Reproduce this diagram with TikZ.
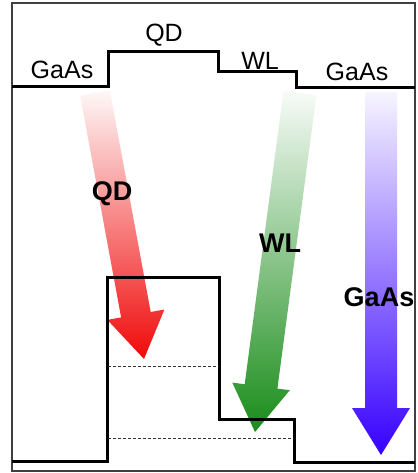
\documentclass[tikz,border=0pt]{standalone}
\usepackage{fontspec}
\setmainfont{Liberation Sans}
\definecolor{qdred}{RGB}{240,10,10}
\definecolor{wlgreen}{RGB}{25,140,25}
\definecolor{gaasblue}{RGB}{55,0,255}
\begin{document}
\begin{tikzpicture}[x=1pt,y=-1pt,
  band/.style={line width=3pt, line join=miter},
  lvl/.style={line width=0.9pt, dash pattern=on 3pt off 2pt, black!80},
  frame/.style={line width=1.2pt, black!75},
  lbl/.style={font=\fontsize{25}{25}\selectfont, inner sep=0pt},
  blbl/.style={font=\fontsize{27}{27}\selectfont\bfseries, inner sep=0pt}]
\useasboundingbox (0,0) rectangle (417,473);
\fill[white] (0,0) rectangle (417,473);
% frame
\draw[frame] (12,3) rectangle (415,471);
% arrows
\shade[top color=qdred!3, bottom color=qdred]
  (80.2,95.7) -- (109.8,90.3) -- (150.7,312.0) -- (164.4,309.5) -- (144,359)
  -- (107.4,319.9) -- (121.1,317.4) -- cycle;
\shade[top color=wlgreen!3, bottom color=wlgreen]
  (283.6,90.8) -- (316.4,95.2) -- (277.4,388.6) -- (289.8,390.2) -- (255,432)
  -- (232.3,382.6) -- (244.7,384.2) -- cycle;
\shade[top color=gaasblue!4, bottom color=gaasblue]
  (365,92) -- (397,92) -- (397,408) -- (410,408) -- (381,455)
  -- (352,408) -- (365,408) -- cycle;
% bands
\draw[band] (12,87) -- (108,87) -- (108,52) -- (218,52) -- (218,72) -- (296,72) -- (296,88) -- (415,88);
\draw[band] (12,461) -- (107,461) -- (107,277) -- (219,277) -- (219,419) -- (294,419) -- (294,462) -- (415,462);
% levels
\draw[lvl] (108,366) -- (219,366);
\draw[lvl] (108,438) -- (293,438);
% labels
\node[lbl] (gaasL) at (62,70) {GaAs};
\node[lbl] (qdT) at (164,35) {QD};
\node[lbl] (wlT) at (260,61) {WL};
\node[lbl] (gaasR) at (357,72) {GaAs};
\node[blbl] (qdA) at (112,194) {QD};
\node[blbl] (wlA) at (280,243) {WL};
\node[blbl] (gaasA) at (379,297) {GaAs};
\end{tikzpicture}
\end{document}
